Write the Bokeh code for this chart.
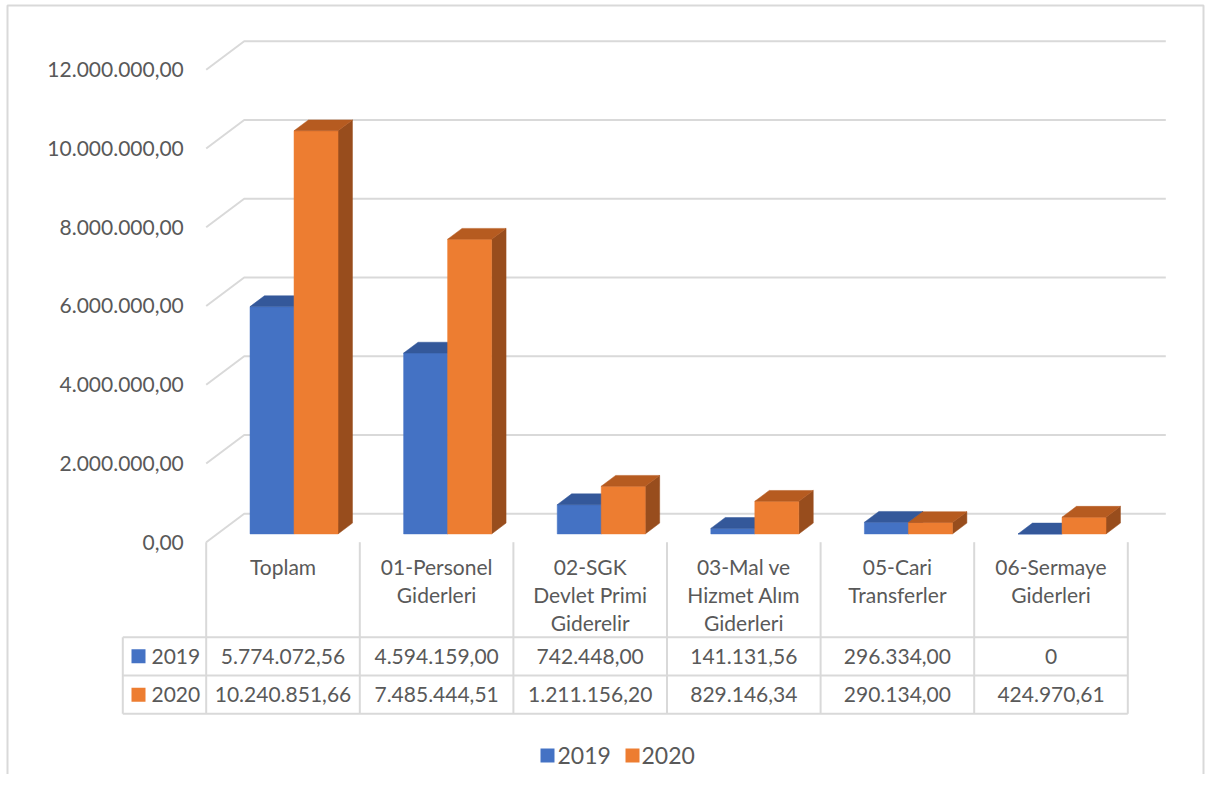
from bokeh.plotting import figure
from bokeh.models import Range1d
from bokeh.core.properties import value
from bokeh.embed import file_html
from bokeh.resources import INLINE

# ---------------- data ----------------
categories = ["Toplam", "01-Personel\nGiderleri", "02-SGK\nDevlet Primi\nGiderelir",
              "03-Mal ve\nHizmet Alım\nGiderleri", "05-Cari\nTransferler", "06-Sermaye\nGiderleri"]
series_names = ["2019", "2020"]
values_2019 = [5774072.56, 4594159.00, 742448.00, 141131.56, 296334.00, 0]
values_2020 = [10240851.66, 7485444.51, 1211156.20, 829146.34, 290134.00, 424970.61]
y_ticks = [0, 2000000, 4000000, 6000000, 8000000, 10000000, 12000000]

# ---------------- style ----------------
front_colors = ["#4472C4", "#ED7D31"]
top_colors = ["#34589A", "#B65B20"]
side_colors = ["#2B4A80", "#984D1D"]
grid_color = "#D9D9D9"
text_color = "#595959"
FONT = value("Lato")
FS = "21px"
FS_LEG = "23px"

W, H = 1205, 774
OFF = 0
X0_PX, COL_PX = 205.7, 153.6
Y0_PX, PX_PER_VAL = 541.7, 39.37 / 1e6


def X(px):
    return (px - X0_PX) / COL_PX


def Y(py):
    return (Y0_PX - py) / PX_PER_VAL


def tr(v, dec=2):
    s = f"{v:,.{dec}f}"
    return s.replace(",", "X").replace(".", ",").replace("X", ".")


def cell(v):
    return "0" if v == 0 else tr(v)


n = len(categories)
DX = 38 / COL_PX
DY = 28.5 / PX_PER_VAL
F0 = 0.29          # bar front depth fraction
FD = 0.38          # bar depth fraction
BW = 44 / COL_PX   # bar width

p = figure(width=W, height=H, output_backend="svg", toolbar_location=None,
           x_axis_type=None, y_axis_type=None,
           x_range=Range1d(X(OFF), X(OFF + W)), y_range=Range1d(Y(OFF + H), Y(OFF)),
           min_border=0, outline_line_color=None, background_fill_color="white")
p.min_border_left = p.min_border_right = p.min_border_top = p.min_border_bottom = 0

# outer border (left, top, right)
p.line([X(7), X(7), X(W - 2), X(W - 2)],
       [Y(OFF + H), Y(5), Y(5), Y(OFF + H)], line_color=grid_color, line_width=2)

# back wall gridlines with floor diagonals
for t in y_ticks:
    p.line([0, DX, n + DX], [t, t + DY, t + DY], line_color=grid_color, line_width=2)

# y tick labels
p.text(x=[X(183.3)] * len(y_ticks), y=y_ticks, text=[tr(t) for t in y_ticks],
       text_align="right", text_baseline="middle", text_font=FONT,
       text_font_size=FS, text_color=text_color)

# bars (3D)
for s, vals in enumerate([values_2019, values_2020]):
    fx, fy, tx, ty, sx, sy = [], [], [], [], [], []
    for i, v in enumerate(vals):
        left = i + 0.5 - BW + s * BW + F0 * DX
        right = left + BW
        bottom = F0 * DY
        top = v + F0 * DY
        ddx, ddy = FD * DX, FD * DY
        fx.append([left, right, right, left]); fy.append([bottom, bottom, top, top])
        tx.append([left, right, right + ddx, left + ddx]); ty.append([top, top, top + ddy, top + ddy])
        sx.append([right, right + ddx, right + ddx, right]); sy.append([bottom, bottom + ddy, top + ddy, top])
    p.patches(sx, sy, fill_color=side_colors[s], line_color=side_colors[s], line_width=0.5)
    p.patches(fx, fy, fill_color=front_colors[s], line_color=front_colors[s], line_width=0.5)
    p.patches(tx, ty, fill_color=top_colors[s], line_color=top_colors[s], line_width=0.5)

# data table
TOP, R1, R2, BOT = 541.7, 636.7, 675.0, 713.3
KEY_L = 122.3
for i in range(n + 1):
    p.line([i, i], [Y(TOP), Y(BOT)], line_color=grid_color, line_width=2)
p.line([X(KEY_L), X(KEY_L)], [Y(R1), Y(BOT)], line_color=grid_color, line_width=2)
for r in (R1, R2, BOT):
    p.line([X(KEY_L), n], [Y(r), Y(r)], line_color=grid_color, line_width=2)

hx, hy, ht = [], [], []
for i, c in enumerate(categories):
    for k, line in enumerate(c.split("\n")):
        hx.append(i + 0.5); hy.append(Y(566 + 28 * k)); ht.append(line)
p.text(x=hx, y=hy, text=ht, text_align="center", text_baseline="middle",
       text_font=FONT, text_font_size=FS, text_color=text_color)

row_c = [(R1 + R2) / 2, (R2 + BOT) / 2]
for s, vals in enumerate([values_2019, values_2020]):
    p.scatter([X(138)], [Y(row_c[s])], marker="square", size=14,
              fill_color=front_colors[s], line_color=None)
    p.text(x=[X(151)], y=[Y(row_c[s])], text=[series_names[s]], text_align="left",
           text_baseline="middle", text_font=FONT, text_font_size=FS, text_color=text_color)
    p.text(x=[i + 0.5 for i in range(n)], y=[Y(row_c[s])] * n, text=[cell(v) for v in vals],
           text_align="center", text_baseline="middle", text_font=FONT,
           text_font_size=FS, text_color=text_color)

# legend
leg_sq = [547, 632]
leg_tx = [557, 641]
for s in range(2):
    p.scatter([X(leg_sq[s])], [Y(755)], marker="square", size=14,
              fill_color=front_colors[s], line_color=None)
    p.text(x=[X(leg_tx[s])], y=[Y(755)], text=[series_names[s]], text_align="left",
           text_baseline="middle", text_font=FONT, text_font_size=FS_LEG, text_color=text_color)

open("out.html", "w").write(file_html(p, INLINE))
